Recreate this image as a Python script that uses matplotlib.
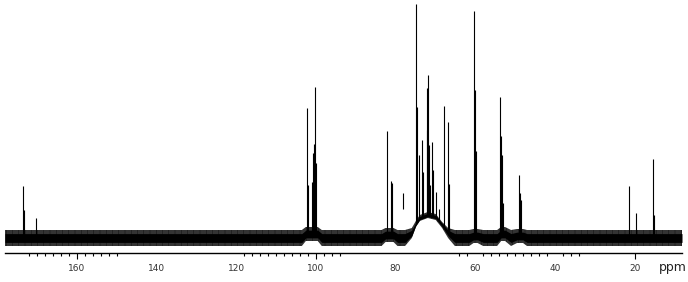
import matplotlib
matplotlib.use("Agg")
import matplotlib.pyplot as plt
import numpy as np

# 13C spectrum, peaks (ppm, height above baseline)
peak_ppm = [173.47, 173.2, 170.21,
            102.15, 101.9, 100.89, 100.64, 100.39, 100.14, 99.89,
            82.08, 81.15, 80.90,
            74.80, 74.55, 74.05, 73.30, 73.05, 72.19, 72.04, 71.79, 71.54,
            71.29, 70.79, 70.54, 69.78, 69.11, 67.85, 66.77, 66.52,
            60.25, 60.08, 59.75,
            53.80, 53.55, 53.30, 53.05,
            48.96, 48.71, 48.46,
            21.51, 19.61, 15.34, 15.17]
peak_height = [52, 28, 20,
               130, 53, 56, 85, 94, 151, 75,
               107, 57, 55,
               234, 131, 83, 98, 66, 150, 108, 163, 93,
               53, 96, 68, 46, 29, 132, 116, 54,
               227, 148, 87,
               141, 102, 83, 35,
               63, 45, 38,
               52, 25, 79, 23]

# a short detached trace near 78 ppm (ppm, low, high)
stray_ppm = [78.06]
stray_low = [29]
stray_high = [45]

# baseline course: broad hump under the sugar region and small tails
base_ppm = [178.0, 103.5, 102.5, 99.5, 98.5, 83.5, 82.5, 80.5, 79.5,
            77.6, 75.9, 74.9, 73.9, 71.9, 69.9, 68.3, 66.8, 65.1,
            61.5, 60.4, 59.4, 58.0, 54.5, 53.5, 52.5, 51.0, 49.5, 48.0, 47.0,
            8.1]
base_level = [0, 0, 4, 4, 0, 0, 3, 3, 0,
              0, 5, 14, 20, 23, 21, 13, 5, 0,
              0, 2, 2, 0, 0, 4, 4, 0, 2, 2, 0,
              0]
# noise amplitude along the trace (quieter on the hump)
noise_half = [8, 8, 7, 7, 8, 8, 7, 7, 8,
              8, 5, 3, 3, 3, 3, 3, 5, 8,
              8, 7, 7, 8, 8, 7, 7, 8, 7, 7, 8,
              8]

major_ticks = [160, 140, 120, 100, 80, 60, 40, 20]
long_ticks = [160, 100, 20]
minor_ticks = (list(range(150, 173, 2)) + list(range(94, 119, 2))
               + list(range(34, 65, 2)))

plt.rcParams["hatch.linewidth"] = 0.8
fig = plt.figure(figsize=(6.88, 2.82), dpi=100)
ax = fig.add_axes([5 / 688, 1 - 253 / 282, 677 / 688, 253 / 282])

bp = np.array(base_ppm)
bl = np.array(base_level)
nh = np.array(noise_half)
ax.fill_between(bp, bl - nh, bl + nh, facecolor="none", edgecolor="#222222",
                hatch="|" * 14, lw=0)
ax.fill_between(bp, bl - nh * 0.55, bl + nh * 0.55, color="black", lw=0)

peak_base = np.interp(peak_ppm, bp[::-1], bl[::-1])
ax.vlines(peak_ppm, peak_base, peak_height, color="black", lw=0.8)
ax.vlines(stray_ppm, stray_low, stray_high, color="black", lw=0.8)

ax.set_xlim(178.0, 8.1)
ax.set_ylim(-15, 238)
for s in ["top", "left", "right"]:
    ax.spines[s].set_visible(False)
ax.spines["bottom"].set_linewidth(1.0)
ax.set_yticks([])

ax.set_xticks(major_ticks, [str(t) for t in major_ticks])
ax.set_xticks(minor_ticks, minor=True)
ax.tick_params(axis="x", which="major", length=0, pad=8, labelsize=6.5,
               labelcolor="#333333")
ax.tick_params(axis="x", which="minor", length=2.2, width=0.8)

sec = ax.secondary_xaxis("bottom", functions=(lambda v: v, lambda v: v))
sec.set_xticks(long_ticks)
sec.tick_params(length=4.3, width=0.8, labelbottom=False)
sec.spines["bottom"].set_visible(False)

fig.text(659 / 688, 1 - 267 / 282, "ppm", fontsize=9, ha="left", va="center",
         color="#222222")

fig.savefig("out.png", dpi=100)
